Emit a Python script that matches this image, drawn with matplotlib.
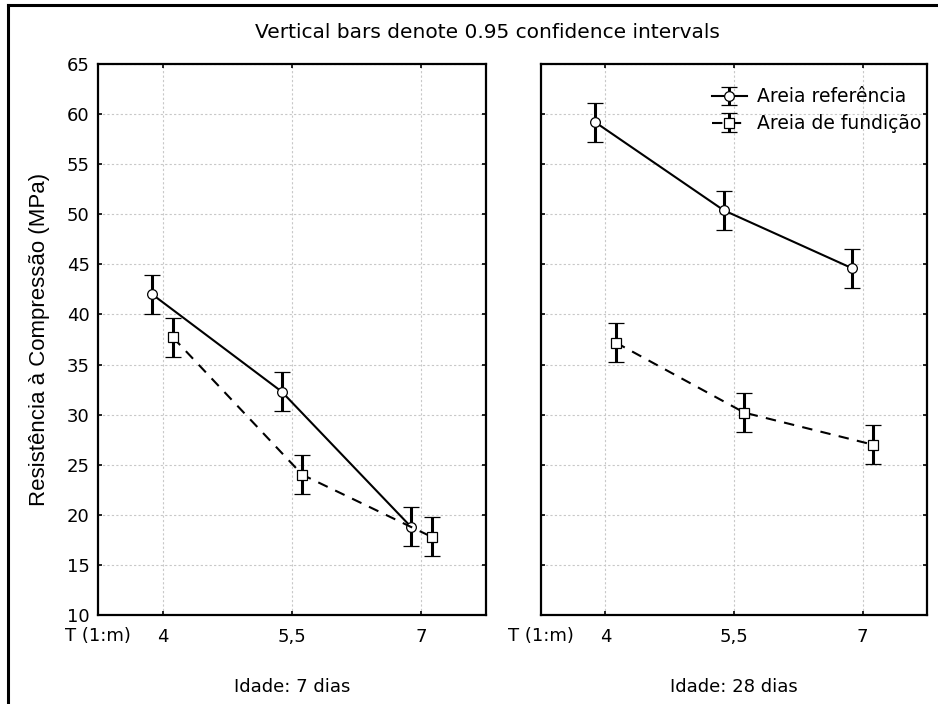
import matplotlib.pyplot as plt
from matplotlib.lines import Line2D

plt.rcParams["font.family"] = ["DejaVu Sans"]

# data
t_labels = ["4", "5,5", "7"]
t_pos = [4.0, 5.5, 7.0]
ref_7d = [42.0, 32.3, 18.8]
fund_7d = [37.7, 24.0, 17.8]
ref_28d = [59.2, 50.4, 44.6]
fund_28d = [37.2, 30.2, 27.0]
ci_ref_7d = [1.95, 1.95, 1.95]
ci_fund_7d = [1.95, 1.95, 1.95]
ci_ref_28d = [1.95, 1.95, 1.95]
ci_fund_28d = [1.95, 1.95, 1.95]
panel_titles = ["Idade: 7 dias", "Idade: 28 dias"]
series_names = ["Areia referência", "Areia de fundição"]

W, H = 938, 704
fig = plt.figure(figsize=(W / 100, H / 100), dpi=100)

def fx(px):
    return px / W

def fy(py):
    return 1 - py / H

ax1 = fig.add_axes([fx(98), fy(615), fx(486 - 98), (615 - 64) / H])
ax2 = fig.add_axes([fx(541), fy(615), fx(927 - 541), (615 - 64) / H])

off = 0.12
panels = [
    (ax1, ref_7d, ci_ref_7d, fund_7d, ci_fund_7d),
    (ax2, ref_28d, ci_ref_28d, fund_28d, ci_fund_28d),
]

handles = []
for i, (ax, ref, ciref, fund, cifund) in enumerate(panels):
    xr = [x - off for x in t_pos]
    xf = [x + off for x in t_pos]
    h1 = ax.errorbar(xr, ref, yerr=ciref, color="black", lw=1.5, ls="-",
                     marker="o", ms=7, mfc="white", mec="black", mew=0.9,
                     elinewidth=2.2, capsize=6, capthick=2.2, zorder=3)
    h2 = ax.errorbar(xf, fund, yerr=cifund, color="black", lw=1.5,
                     ls=(0, (5, 4)), marker="s", ms=6.5, mfc="white",
                     mec="black", mew=0.9, elinewidth=2.2, capsize=6,
                     capthick=2.2, zorder=3)
    if i == 1:
        handles = [h1, h2]

    ax.set_xlim(3.25, 7.75)
    ax.set_ylim(10, 65)
    ax.set_yticks(range(10, 66, 5))
    ax.set_xticks(t_pos)
    ax.set_xticklabels(t_labels)
    ax.grid(True, color="#c8c8c8", ls=(0, (2, 2)), lw=0.8)
    ax.set_axisbelow(True)
    ax.tick_params(direction="in", length=3, width=1.2, top=True,
                   right=True, labelsize=13, pad=9, colors="black")
    ax.tick_params(axis="y", pad=6)
    for s in ax.spines.values():
        s.set_linewidth(1.6)
    if i == 1:
        ax.tick_params(axis="y", labelleft=False)
    ax.text(0.0, -0.022, "T (1:m)", transform=ax.transAxes, ha="center",
            va="top", fontsize=13)
    ax.text(0.5, -0.115, panel_titles[i], transform=ax.transAxes,
            ha="center", va="top", fontsize=13)

ax1.set_ylabel("Resistência à Compressão (MPa)", fontsize=16,
               family="Liberation Sans", labelpad=12)

ax2.legend(handles, series_names, loc="upper right", frameon=False,
           fontsize=13.5, bbox_to_anchor=(1.03, 0.988), handlelength=1.9,
           handletextpad=0.55, labelspacing=0.42)

fig.text(fx(487), fy(32), "Vertical bars denote 0.95 confidence intervals",
         ha="center", va="center", fontsize=14.5)

# outer frame (top and left edges)
fig.add_artist(Line2D([fx(8), 1.0], [fy(5), fy(5)], color="black", lw=2.2))
fig.add_artist(Line2D([fx(8), fx(8)], [fy(5), 0.0], color="black", lw=2.2))

fig.savefig("out.png", dpi=100)
